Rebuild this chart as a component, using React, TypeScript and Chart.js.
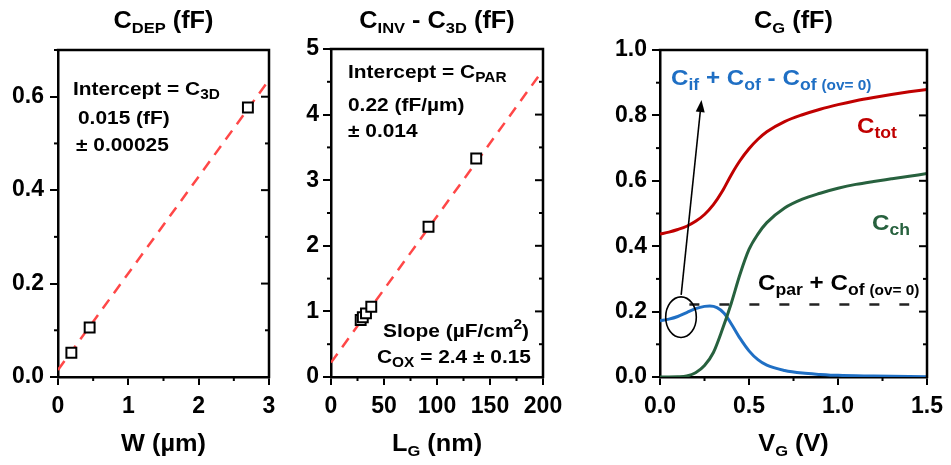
import React, { useEffect, useRef } from 'react';
import { Chart, registerables } from 'chart.js';
Chart.register(...registerables);

const FONT = '"Liberation Sans", Arial, sans-serif';
const CW = 951;
const CH = 465;
const STRETCH = 1.1;

// ---------- Panel 1 : C_DEP vs W ----------
const widthUm = [0.19, 0.45, 2.7];
const cDep = [0.052, 0.106, 0.577];
const fitWX = [0, 3];
const fitWY = [0.015, 0.636];

// ---------- Panel 2 : C_INV - C_3D vs L_G ----------
const lgNm = [28, 30, 33, 38, 92, 137];
const cInv3D = [0.87, 0.91, 0.97, 1.07, 2.29, 3.33];
const fitLX = [0, 200];
const fitLY = [0.22, 4.68];

// ---------- Panel 3 : C_G vs V_G ----------
const vg = [0, 0.05, 0.1, 0.15, 0.2, 0.25, 0.3, 0.35, 0.4, 0.45, 0.5, 0.55, 0.6, 0.7, 0.8, 0.9, 1.0, 1.1, 1.2, 1.3, 1.4, 1.5];
const cTot = [0.437, 0.443, 0.451, 0.461, 0.476, 0.497, 0.527, 0.568, 0.618, 0.662, 0.698, 0.727, 0.75, 0.781, 0.802, 0.819, 0.833, 0.845, 0.855, 0.864, 0.872, 0.879];
const cCh = [0, 0, 0.0005, 0.003, 0.013, 0.035, 0.075, 0.145, 0.225, 0.315, 0.39, 0.437, 0.472, 0.517, 0.544, 0.562, 0.577, 0.589, 0.598, 0.606, 0.614, 0.622];
const vgIf = [0, 0.05, 0.1, 0.15, 0.2, 0.25, 0.28, 0.32, 0.36, 0.4, 0.45, 0.5, 0.55, 0.6, 0.7, 0.8, 0.9, 1.0, 1.2, 1.5];
const cIf = [0.172, 0.177, 0.185, 0.197, 0.209, 0.216, 0.217, 0.212, 0.195, 0.163, 0.118, 0.08, 0.053, 0.036, 0.02, 0.012, 0.008, 0.005, 0.003, 0.001];
const cParX = [0.165, 1.4];
const cParY = [0.222, 0.222];
// annotation ellipse / arrow (data units)
const ellipseCenter = [0.118, 0.183];
const ellipseRadii = [0.086, 0.062];
const arrowFrom = [0.119, 0.251];
const arrowTo = [0.233, 0.847];

const BLUE = '#1f6fc4';
const RED = '#c00000';
const GREEN = '#27613e';
const FITRED = '#ff4747';

type Seg = { t: string; s: number; dy?: number };
type TextItem = { dx: number; by: number; segs: Seg[]; color: string };

const pts = (xs: number[], ys: number[]) => xs.map((x, i) => ({ x, y: ys[i] }));

function drawRich(ctx: CanvasRenderingContext2D, x: number, y: number, segs: Seg[], color: string, center: boolean) {
  ctx.save();
  ctx.fillStyle = color;
  ctx.textBaseline = 'alphabetic';
  ctx.textAlign = 'left';
  let total = 0;
  for (const g of segs) {
    ctx.font = `bold ${g.s}px ${FONT}`;
    total += ctx.measureText(g.t).width;
  }
  total *= STRETCH;
  const sx = center ? x - total / 2 : x;
  ctx.translate(sx, y);
  ctx.scale(STRETCH, 1);
  let px = 0;
  for (const g of segs) {
    ctx.font = `bold ${g.s}px ${FONT}`;
    ctx.fillText(g.t, px, g.dy || 0);
    px += ctx.measureText(g.t).width;
  }
  ctx.restore();
}

interface AxisSpec { min: number; max: number; step: number; minor: number; digits: number; pad: number }
interface PanelSpec {
  area: { l: number; t: number; r: number; b: number };
  x: AxisSpec;
  y: AxisSpec;
  datasets: any[];
  title: Seg[];
  xTitle: Seg[];
  texts: TextItem[];
  extra?: (chart: any) => void;
}

const T = 23, TS = 15;
const A = 19, AS = 14;
const L = 22, LS = 16, LO = 14;

const squares = (data: any[]) => ({
  data,
  showLine: false,
  pointStyle: 'rect',
  pointRadius: 7,
  pointBorderWidth: 2,
  pointBorderColor: '#000',
  pointBackgroundColor: '#fff',
  borderColor: '#000',
  order: 0,
});
const fitLine = (data: any[]) => ({
  data,
  borderColor: FITRED,
  borderWidth: 2.5,
  borderDash: [11, 8],
  pointRadius: 0,
  tension: 0,
  order: 1,
});
const curve = (data: any[], color: string) => ({
  data,
  borderColor: color,
  borderWidth: 3,
  pointRadius: 0,
  tension: 0.4,
  cubicInterpolationMode: 'monotone',
  fill: false,
});

const panels: PanelSpec[] = [
  {
    area: { l: 58, t: 50, r: 269, b: 377 },
    x: { min: 0, max: 3, step: 1, minor: 0.5, digits: 0, pad: 8 },
    y: { min: 0, max: 0.7, step: 0.2, minor: 0.1, digits: 1, pad: 6 },
    datasets: [squares(pts(widthUm, cDep)), fitLine(pts(fitWX, fitWY))],
    title: [{ t: 'C', s: T }, { t: 'DEP', s: TS, dy: 5 }, { t: ' (fF)', s: T }],
    xTitle: [{ t: 'W (µm)', s: T }],
    texts: [
      { dx: 15, by: 45, color: '#000', segs: [{ t: 'Intercept = C', s: A }, { t: '3D', s: AS, dy: 4 }] },
      { dx: 20, by: 74, color: '#000', segs: [{ t: '0.015 (fF)', s: A }] },
      { dx: 18, by: 101, color: '#000', segs: [{ t: '± 0.00025', s: A }] },
    ],
  },
  {
    area: { l: 331, t: 49, r: 543, b: 377 },
    x: { min: 0, max: 200, step: 50, minor: 25, digits: 0, pad: 8 },
    y: { min: 0, max: 5, step: 1, minor: 0.5, digits: 0, pad: 4 },
    datasets: [squares(pts(lgNm, cInv3D)), fitLine(pts(fitLX, fitLY))],
    title: [{ t: 'C', s: T }, { t: 'INV', s: TS, dy: 5 }, { t: ' - C', s: T }, { t: '3D', s: TS, dy: 5 }, { t: ' (fF)', s: T }],
    xTitle: [{ t: 'L', s: T }, { t: 'G', s: TS, dy: 5 }, { t: ' (nm)', s: T }],
    texts: [
      { dx: 17, by: 29, color: '#000', segs: [{ t: 'Intercept = C', s: A }, { t: 'PAR', s: AS, dy: 4 }] },
      { dx: 17, by: 62, color: '#000', segs: [{ t: '0.22 (fF/µm)', s: A }] },
      { dx: 17, by: 88, color: '#000', segs: [{ t: '± 0.014', s: A }] },
      { dx: 52, by: 288, color: '#000', segs: [{ t: 'Slope (µF/cm', s: A }, { t: '2', s: AS, dy: -8 }, { t: ')', s: A }] },
      { dx: 46, by: 314, color: '#000', segs: [{ t: 'C', s: A }, { t: 'OX', s: AS, dy: 4 }, { t: ' = 2.4 ± 0.15', s: A }] },
    ],
  },
  {
    area: { l: 660, t: 50, r: 933, b: 377 },
    x: { min: 0, max: 1.5, step: 0.5, minor: 0.25, digits: 1, pad: 8 },
    y: { min: 0, max: 1, step: 0.2, minor: 0.1, digits: 1, pad: 5 },
    datasets: [
      curve(pts(vg, cTot), RED),
      curve(pts(vg, cCh), GREEN),
      curve(pts(vgIf, cIf), BLUE),
      { data: pts(cParX, cParY), borderColor: '#222', borderWidth: 2.5, borderDash: [10, 20], pointRadius: 0, tension: 0 },
    ],
    title: [{ t: 'C', s: T }, { t: 'G', s: TS, dy: 5 }, { t: ' (fF)', s: T }],
    xTitle: [{ t: 'V', s: T }, { t: 'G', s: TS, dy: 5 }, { t: ' (V)', s: T }],
    texts: [
      {
        dx: 11, by: 35, color: BLUE,
        segs: [
          { t: 'C', s: L }, { t: 'if', s: LS, dy: 5 }, { t: ' + C', s: L }, { t: 'of', s: LS, dy: 5 },
          { t: ' - C', s: L }, { t: 'of ', s: LS, dy: 5 }, { t: '(ov= 0)', s: LO, dy: 5 },
        ],
      },
      { dx: 197, by: 83, color: RED, segs: [{ t: 'C', s: L }, { t: 'tot', s: LS, dy: 5 }] },
      { dx: 212, by: 180, color: GREEN, segs: [{ t: 'C', s: L }, { t: 'ch', s: LS, dy: 5 }] },
      {
        dx: 98, by: 240, color: '#000',
        segs: [{ t: 'C', s: L }, { t: 'par', s: LS, dy: 5 }, { t: ' + C', s: L }, { t: 'of ', s: LS, dy: 5 }, { t: '(ov= 0)', s: LO, dy: 5 }],
      },
    ],
    extra: (chart: any) => {
      const ctx: CanvasRenderingContext2D = chart.ctx;
      const xs = chart.scales.x;
      const ys = chart.scales.y;
      const cx = xs.getPixelForValue(ellipseCenter[0]);
      const cy = ys.getPixelForValue(ellipseCenter[1]);
      const rx = Math.abs(xs.getPixelForValue(ellipseCenter[0] + ellipseRadii[0]) - cx);
      const ry = Math.abs(ys.getPixelForValue(ellipseCenter[1] + ellipseRadii[1]) - cy);
      ctx.save();
      ctx.strokeStyle = '#000';
      ctx.fillStyle = '#000';
      ctx.lineWidth = 1.6;
      ctx.beginPath();
      ctx.ellipse(cx, cy, rx, ry, 0, 0, Math.PI * 2);
      ctx.stroke();
      const x1 = xs.getPixelForValue(arrowFrom[0]);
      const y1 = ys.getPixelForValue(arrowFrom[1]);
      const x2 = xs.getPixelForValue(arrowTo[0]);
      const y2 = ys.getPixelForValue(arrowTo[1]);
      const ang = Math.atan2(y2 - y1, x2 - x1);
      const hl = 12, hw = 4.5;
      const bx = x2 - hl * Math.cos(ang);
      const by = y2 - hl * Math.sin(ang);
      ctx.beginPath();
      ctx.moveTo(x1, y1);
      ctx.lineTo(bx, by);
      ctx.stroke();
      ctx.beginPath();
      ctx.moveTo(x2, y2);
      ctx.lineTo(bx + hw * Math.sin(ang), by - hw * Math.cos(ang));
      ctx.lineTo(bx - hw * Math.sin(ang), by + hw * Math.cos(ang));
      ctx.closePath();
      ctx.fill();
      ctx.restore();
    },
  },
];

const Y_W = 50;
const X_H = 40;
const TICK = 8;
const MINOR = 4;

function makePlugin(spec: PanelSpec) {
  return {
    id: 'panelDecor',
    afterDraw(chart: any) {
      const ctx: CanvasRenderingContext2D = chart.ctx;
      const { left, right, top, bottom } = chart.chartArea;
      const xs = chart.scales.x;
      const ys = chart.scales.y;
      ctx.save();
      ctx.strokeStyle = '#000';
      // frame top and right
      ctx.lineWidth = 2.5;
      ctx.beginPath();
      ctx.moveTo(left - 1.25, top);
      ctx.lineTo(right, top);
      ctx.lineTo(right, bottom + 1.25);
      ctx.stroke();
      ctx.lineWidth = 2;
      const isMajor = (v: number, step: number, min: number) => Math.abs((v - min) / step - Math.round((v - min) / step)) < 1e-6;
      // x minor ticks (outward)
      for (let i = 0; ; i++) {
        const v = spec.x.min + i * spec.x.minor;
        if (v > spec.x.max + 1e-9) break;
        if (isMajor(v, spec.x.step, spec.x.min)) continue;
        const px = xs.getPixelForValue(v);
        ctx.beginPath();
        ctx.moveTo(px, bottom);
        ctx.lineTo(px, bottom + MINOR);
        ctx.stroke();
      }
      // y minor ticks (left, outward) + right mirrored ticks (inward)
      for (let i = 0; ; i++) {
        const v = spec.y.min + i * spec.y.minor;
        if (v > spec.y.max + 1e-9) break;
        const major = isMajor(v, spec.y.step, spec.y.min);
        const py = ys.getPixelForValue(v);
        if (!major) {
          ctx.beginPath();
          ctx.moveTo(left - MINOR, py);
          ctx.lineTo(left, py);
          ctx.stroke();
        }
        if (Math.abs(v - spec.y.min) < 1e-9 || Math.abs(v - spec.y.max) < 1e-9) continue;
        ctx.beginPath();
        ctx.moveTo(right, py);
        ctx.lineTo(right - (major ? TICK : MINOR), py);
        ctx.stroke();
      }
      ctx.restore();
      const cxm = (left + right) / 2;
      drawRich(ctx, cxm, 28, spec.title, '#000', true);
      drawRich(ctx, cxm, 451, spec.xTitle, '#000', true);
      for (const t of spec.texts) drawRich(ctx, left + t.dx, top + t.by, t.segs, t.color, false);
      if (spec.extra) spec.extra(chart);
    },
  };
}

function axisOpts(a: AxisSpec, isX: boolean) {
  return {
    type: 'linear',
    min: a.min,
    max: a.max,
    afterFit: (s: any) => {
      if (isX) s.height = X_H;
      else s.width = Y_W;
    },
    ticks: {
      stepSize: a.step,
      includeBounds: false,
      autoSkip: false,
      maxRotation: 0,
      padding: a.pad,
      color: '#000',
      font: { family: FONT, size: 23, weight: 'bold' },
      callback: (v: any) => Number(v).toFixed(a.digits),
    },
    grid: { drawOnChartArea: false, drawTicks: true, tickLength: TICK, color: '#000', lineWidth: 2 },
    border: { display: true, color: '#000', width: 2.5 },
  };
}

function Panel({ spec }: { spec: PanelSpec }) {
  const ref = useRef<HTMLCanvasElement>(null);
  useEffect(() => {
    const { l, t, r, b } = spec.area;
    const chart = new Chart(ref.current as HTMLCanvasElement, {
      type: 'line',
      data: { datasets: spec.datasets },
      options: {
        animation: false,
        responsive: false,
        events: [],
        layout: { padding: { left: l - Y_W, right: CW - r, top: t, bottom: CH - b - X_H } },
        plugins: { legend: { display: false }, tooltip: { enabled: false }, title: { display: false } },
        scales: { x: axisOpts(spec.x, true), y: axisOpts(spec.y, false) },
      } as any,
      plugins: [makePlugin(spec)],
    } as any);
    return () => chart.destroy();
  }, [spec]);
  return (
    <canvas
      ref={ref}
      width={CW}
      height={CH}
      style={{ position: 'absolute', left: 0, top: 0, width: CW, height: CH }}
    />
  );
}

export default function App() {
  return (
    <div style={{ position: 'fixed', left: 0, top: 0, width: CW, height: CH, background: '#fff', overflow: 'hidden' }}>
      {panels.map((p, i) => (
        <Panel key={i} spec={p} />
      ))}
    </div>
  );
}
